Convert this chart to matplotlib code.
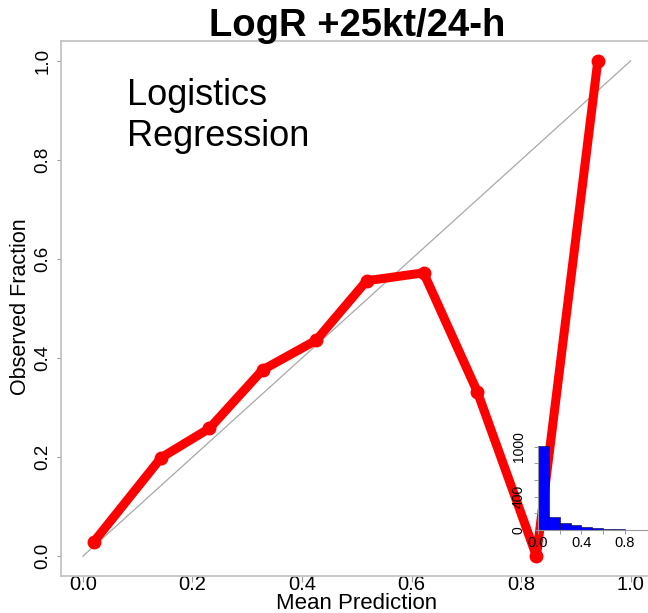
import numpy as np
import matplotlib
matplotlib.use("Agg")
import matplotlib.pyplot as plt

# reliability curve
mean_pred = [0.02, 0.143, 0.231, 0.328, 0.426, 0.518, 0.622, 0.72, 0.828, 0.94]
obs_frac = [0.029, 0.199, 0.258, 0.376, 0.436, 0.556, 0.572, 0.332, 0.0, 1.0]

# inset histogram of forecast probabilities
hist_edges = [0.0, 0.1, 0.2, 0.3, 0.4, 0.5, 0.6, 0.7, 0.8, 0.9, 1.0]
hist_counts = [1008, 160, 88, 56, 36, 20, 12, 8, 0, 0]

title = "LogR +25kt/24-h"
xticks = [0.0, 0.2, 0.4, 0.6, 0.8, 1.0]
yticks = [0.0, 0.2, 0.4, 0.6, 0.8, 1.0]

plt.rcParams['font.family'] = ['Liberation Sans', 'DejaVu Sans']

W, H = 648, 613
fig = plt.figure(figsize=(W / 100, H / 100), dpi=100)

def fx(px):
    return px / W

def fy(py):
    return (H - py) / H

frame_col = '#c4c4c4'

ax = fig.add_axes([fx(61), fy(576), fx(652.6) - fx(61), fy(41) - fy(576)])
ax.set_xlim(-0.04, 1.04)
ax.set_ylim(-0.04, 1.04)
for s in ax.spines.values():
    s.set_color(frame_col)
    s.set_linewidth(1.3)

ax.plot([0, 1], [0, 1], color='#a8a8a8', lw=0.9, zorder=1)
ax.plot(mean_pred, obs_frac, color='#ff0000', lw=6.5, marker='o', ms=9,
        solid_joinstyle='round', solid_capstyle='round', zorder=2)

ax.set_xticks(xticks)
ax.set_xticklabels(['%.1f' % v for v in xticks])
ax.set_yticks(yticks)
ax.set_yticklabels(['%.1f' % v for v in yticks], rotation=90, va='center')
ax.tick_params(axis='x', length=4, width=0.8, color='#999999', labelsize=14.5, pad=-5)
ax.tick_params(axis='y', length=3, width=0.8, color='#999999', labelsize=13.5, pad=4)

fig.text(fx(357), fy(36), title, ha='center', va='baseline',
         fontsize=27.5, fontweight='bold')
fig.text(fx(357), fy(609), 'Mean Prediction', ha='center', va='baseline', fontsize=16)
fig.text(fx(21), fy(307), 'Observed Fraction', ha='center', va='center',
         rotation=90, fontsize=15.5)
fig.text(fx(127), fy(146), 'Logistics\nRegression', ha='left', va='baseline',
         fontsize=26, linespacing=1.24)

# inset histogram
ins = fig.add_axes([fx(538), fy(530), fx(646.7) - fx(538), fy(446.7) - fy(530)])
ins.patch.set_alpha(0)
ins.bar(hist_edges[:-1], hist_counts, width=np.diff(hist_edges), align='edge',
        color='#0000ff', edgecolor='#000033', linewidth=0.4, clip_on=False)
ins.set_xlim(0, 1)
ins.set_ylim(0, 1000)
ins.spines['top'].set_visible(False)
ins.spines['right'].set_visible(False)
ins.spines['left'].set_bounds(0, 1000)
for s in ('left', 'bottom'):
    ins.spines[s].set_color('#999999')
    ins.spines[s].set_linewidth(0.8)
ins.set_xticks([0.0, 0.2, 0.4, 0.6, 0.8])
ins.set_xticklabels(['0.0', '', '0.4', '', '0.8'])
ins.set_yticks([0, 200, 400, 600, 800, 1000])
ins.set_yticklabels(['0', '', '400', '', '', '1000'], rotation=90, va='center')
ins.tick_params(axis='x', length=3, width=0.7, color='#999999', labelsize=10.5, pad=1)
ins.tick_params(axis='y', length=3, width=0.7, color='#999999', labelsize=10, pad=6)

fig.savefig('out.png', dpi=100)
